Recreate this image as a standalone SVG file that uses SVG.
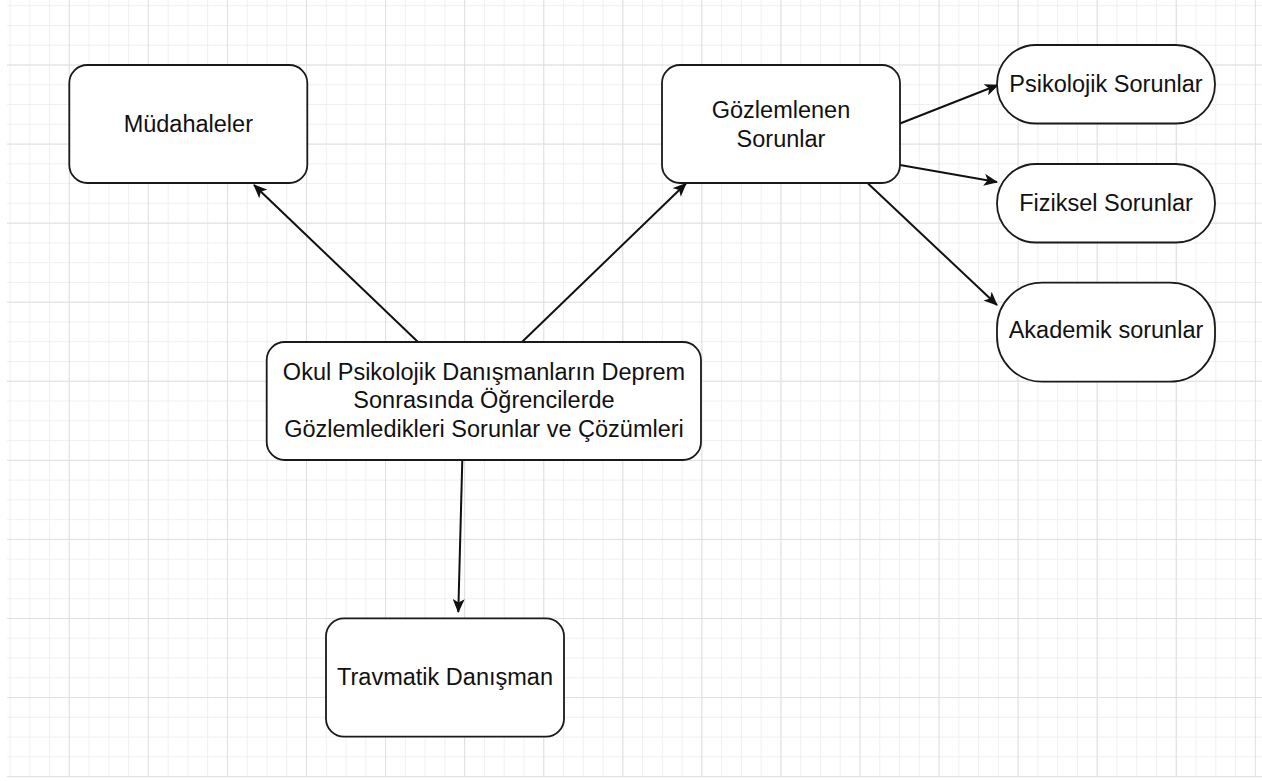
<svg xmlns="http://www.w3.org/2000/svg" width="1262" height="781" viewBox="0 0 1262 781">
<style>
.minor{fill:none;stroke:#f0f0f0;stroke-width:1}
.major{fill:none;stroke:#e0e0e0;stroke-width:1}
.box{fill:#ffffff;stroke:#1a1a1a;stroke-width:1.8}
.lbl{font-family:"Liberation Sans",Arial,Helvetica,sans-serif;font-size:23.5px;fill:#111111;text-anchor:middle}
.edge{fill:none;stroke:#111111;stroke-width:2}
</style>
<defs>
<marker id="arr" viewBox="0 0 14 12" refX="13" refY="6" markerWidth="14" markerHeight="12" markerUnits="userSpaceOnUse" orient="auto">
<path d="M0,0 L14,6 L0,12 L3.5,6 Z" fill="#111111"/>
</marker>
</defs>
<rect width="1262" height="781" fill="#ffffff"/>
<g id="grid">
<path class="minor" d="M10,0v776.6m19.767,-776.6v776.6m19.767,-776.6v776.6m19.767,-776.6v776.6m19.767,-776.6v776.6m19.767,-776.6v776.6m19.767,-776.6v776.6m19.767,-776.6v776.6m19.767,-776.6v776.6m19.767,-776.6v776.6m19.767,-776.6v776.6m19.767,-776.6v776.6m19.767,-776.6v776.6m19.767,-776.6v776.6m19.767,-776.6v776.6m19.767,-776.6v776.6m19.767,-776.6v776.6m19.767,-776.6v776.6m19.767,-776.6v776.6m19.767,-776.6v776.6m19.767,-776.6v776.6m19.767,-776.6v776.6m19.767,-776.6v776.6m19.767,-776.6v776.6m19.767,-776.6v776.6m19.767,-776.6v776.6m19.767,-776.6v776.6m19.767,-776.6v776.6m19.767,-776.6v776.6m19.767,-776.6v776.6m19.767,-776.6v776.6m19.767,-776.6v776.6m19.767,-776.6v776.6m19.767,-776.6v776.6m19.767,-776.6v776.6m19.767,-776.6v776.6m19.767,-776.6v776.6m19.767,-776.6v776.6m19.767,-776.6v776.6m19.767,-776.6v776.6m19.767,-776.6v776.6m19.767,-776.6v776.6m19.767,-776.6v776.6m19.767,-776.6v776.6m19.767,-776.6v776.6m19.767,-776.6v776.6m19.767,-776.6v776.6m19.767,-776.6v776.6m19.767,-776.6v776.6m19.767,-776.6v776.6m19.767,-776.6v776.6m19.767,-776.6v776.6m19.767,-776.6v776.6m19.767,-776.6v776.6m19.767,-776.6v776.6m19.767,-776.6v776.6m19.767,-776.6v776.6m19.767,-776.6v776.6m19.767,-776.6v776.6m19.767,-776.6v776.6m19.767,-776.6v776.6m19.767,-776.6v776.6m19.767,-776.6v776.6"/>
<path class="minor" d="M7,5.7h1255m-1255,19.767h1255m-1255,19.767h1255m-1255,19.767h1255m-1255,19.767h1255m-1255,19.767h1255m-1255,19.767h1255m-1255,19.767h1255m-1255,19.767h1255m-1255,19.767h1255m-1255,19.767h1255m-1255,19.767h1255m-1255,19.767h1255m-1255,19.767h1255m-1255,19.767h1255m-1255,19.767h1255m-1255,19.767h1255m-1255,19.767h1255m-1255,19.767h1255m-1255,19.767h1255m-1255,19.767h1255m-1255,19.767h1255m-1255,19.767h1255m-1255,19.767h1255m-1255,19.767h1255m-1255,19.767h1255m-1255,19.767h1255m-1255,19.767h1255m-1255,19.767h1255m-1255,19.767h1255m-1255,19.767h1255m-1255,19.767h1255m-1255,19.767h1255m-1255,19.767h1255m-1255,19.767h1255m-1255,19.767h1255m-1255,19.767h1255m-1255,19.767h1255m-1255,19.767h1255m-1255,19.767h1255"/>
<path class="major" d="M69.3,0v776.6m79.07,-776.6v776.6m79.07,-776.6v776.6m79.07,-776.6v776.6m79.07,-776.6v776.6m79.07,-776.6v776.6m79.07,-776.6v776.6m79.07,-776.6v776.6m79.07,-776.6v776.6m79.07,-776.6v776.6m79.07,-776.6v776.6m79.07,-776.6v776.6m79.07,-776.6v776.6m79.07,-776.6v776.6m79.07,-776.6v776.6m79.07,-776.6v776.6"/>
<path class="major" d="M7,65h1255m-1255,79.07h1255m-1255,79.07h1255m-1255,79.07h1255m-1255,79.07h1255m-1255,79.07h1255m-1255,79.07h1255m-1255,79.07h1255m-1255,79.07h1255m-1255,79.07h1255"/>
</g>
<g id="connectors">
<line class="edge" x1="418" y1="342" x2="254" y2="185" marker-end="url(#arr)"/>
<line class="edge" x1="522" y1="342" x2="686" y2="183.5" marker-end="url(#arr)"/>
<line class="edge" x1="462.3" y1="460" x2="458.3" y2="612" marker-end="url(#arr)"/>
<line class="edge" x1="900" y1="123.5" x2="998" y2="85" marker-end="url(#arr)"/>
<line class="edge" x1="900" y1="165" x2="997" y2="182" marker-end="url(#arr)"/>
<line class="edge" x1="868" y1="183.5" x2="997" y2="305" marker-end="url(#arr)"/>
</g>
<g id="mudahaleler">
<rect class="box" x="69.3" y="65" width="238" height="118" rx="18" ry="18"/>
<text class="lbl" x="188.3" y="131.7">Müdahaleler</text>
</g>
<g id="gozlemlenen">
<rect class="box" x="662" y="65" width="238" height="118" rx="18" ry="18"/>
<text class="lbl" x="781" y="118">Gözlemlenen</text>
<text class="lbl" x="781" y="146.5">Sorunlar</text>
</g>
<g id="psikolojik">
<rect class="box" x="997" y="45" width="218" height="78.5" rx="39" ry="39"/>
<text class="lbl" x="1106" y="91.7">Psikolojik Sorunlar</text>
</g>
<g id="fiziksel">
<rect class="box" x="997" y="164" width="218" height="78.5" rx="39" ry="39"/>
<text class="lbl" x="1106" y="210.5">Fiziksel Sorunlar</text>
</g>
<g id="akademik">
<rect class="box" x="997" y="282.7" width="218" height="99" rx="45" ry="45"/>
<text class="lbl" x="1106" y="338">Akademik sorunlar</text>
</g>
<g id="main">
<rect class="box" x="266.7" y="342" width="434.3" height="118" rx="18" ry="18"/>
<text class="lbl" x="484" y="380">Okul Psikolojik Danışmanların Deprem</text>
<text class="lbl" x="484" y="408.3">Sonrasında Öğrencilerde</text>
<text class="lbl" x="484" y="436.6">Gözlemledikleri Sorunlar ve Çözümleri</text>
</g>
<g id="travmatik">
<rect class="box" x="326" y="618.3" width="238" height="118.4" rx="18" ry="18"/>
<text class="lbl" x="445" y="685">Travmatik Danışman</text>
</g>
</svg>
